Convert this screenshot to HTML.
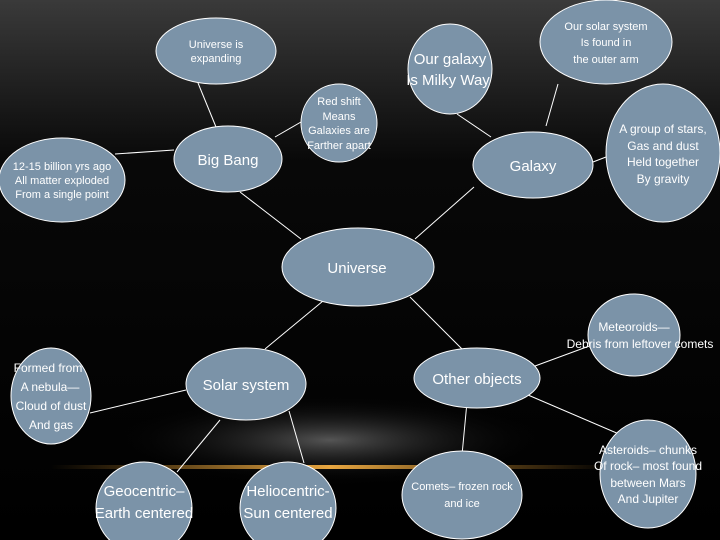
<!DOCTYPE html>
<html><head><meta charset="utf-8"><style>
html,body{margin:0;padding:0;background:#000}
svg{display:block}
text{font-family:"Liberation Sans Narrow","Liberation Sans",sans-serif;fill:#fff;text-anchor:middle}
</style></head><body>
<svg width="720" height="540" viewBox="0 0 720 540" xmlns="http://www.w3.org/2000/svg">
<defs>
<linearGradient id="bg" x1="0" y1="0" x2="0" y2="1">
<stop offset="0" stop-color="#3a3a3a"/><stop offset="0.3" stop-color="#080808"/><stop offset="1" stop-color="#000"/>
</linearGradient>
<radialGradient id="glow" cx="0.5" cy="0.5" r="0.5">
<stop offset="0" stop-color="#555"/><stop offset="1" stop-color="#000" stop-opacity="0"/>
</radialGradient>
<linearGradient id="ln" x1="0" y1="0" x2="1" y2="0">
<stop offset="0" stop-color="#c88a2a" stop-opacity="0"/><stop offset="0.5" stop-color="#e8a640"/><stop offset="1" stop-color="#c88a2a" stop-opacity="0"/>
</linearGradient>
</defs>
<rect width="720" height="540" fill="url(#bg)"/>
<ellipse cx="330" cy="440" rx="220" ry="45" fill="url(#glow)"/>
<rect x="50" y="465" width="560" height="4" fill="url(#ln)"/>
<g stroke="#fff" stroke-width="1">
<line x1="198" y1="83" x2="216" y2="127"/>
<line x1="275" y1="137" x2="301" y2="122"/>
<line x1="115" y1="154" x2="174" y2="150"/>
<line x1="240" y1="192" x2="301" y2="239"/>
<line x1="474" y1="187" x2="415" y2="239"/>
<line x1="491" y1="137" x2="457" y2="114"/>
<line x1="546" y1="126" x2="558" y2="84"/>
<line x1="593" y1="162" x2="606" y2="157"/>
<line x1="323" y1="301" x2="265" y2="349"/>
<line x1="410" y1="297" x2="462" y2="349"/>
<line x1="535" y1="366" x2="592" y2="345"/>
<line x1="186" y1="390" x2="90" y2="413"/>
<line x1="220" y1="420" x2="177" y2="472"/>
<line x1="289" y1="411" x2="304" y2="463"/>
<line x1="467" y1="402" x2="462" y2="455"/>
<line x1="528" y1="395" x2="640" y2="443"/>
</g>
<g fill="#7b93a8" stroke="#fff" stroke-width="1">
<ellipse cx="216" cy="51" rx="60" ry="33"/>
<ellipse cx="450" cy="69" rx="42" ry="45"/>
<ellipse cx="606" cy="42" rx="66" ry="42"/>
<ellipse cx="339" cy="123" rx="38" ry="39"/>
<ellipse cx="228" cy="159" rx="54" ry="33"/>
<ellipse cx="62" cy="180" rx="63" ry="42"/>
<ellipse cx="533" cy="165" rx="60" ry="33"/>
<ellipse cx="663" cy="153" rx="57" ry="69"/>
<ellipse cx="358" cy="267" rx="76" ry="39"/>
<ellipse cx="634" cy="335" rx="46" ry="41"/>
<ellipse cx="477" cy="378" rx="63" ry="30"/>
<ellipse cx="246" cy="384" rx="60" ry="36"/>
<ellipse cx="51" cy="396" rx="40" ry="48"/>
<ellipse cx="144" cy="508" rx="48" ry="46"/>
<ellipse cx="288" cy="508" rx="48" ry="46"/>
<ellipse cx="462" cy="495" rx="60" ry="44"/>
<ellipse cx="648" cy="474" rx="48" ry="54"/>
</g>
<g font-size="11">
<text x="216" y="48">Universe is</text><text x="216" y="62">expanding</text>
<text x="606" y="30">Our solar system</text><text x="606" y="46">Is found  in</text><text x="606" y="63">the outer arm</text>
<text x="339" y="105">Red shift</text><text x="339" y="120">Means</text><text x="339" y="134">Galaxies are</text><text x="339" y="149">Farther apart</text>
<text x="62" y="170">12-15 billion yrs ago</text><text x="62" y="184">All matter exploded</text><text x="62" y="198">From a single point</text>
<text x="462" y="490">Comets– frozen rock</text><text x="462" y="507">and ice</text>
</g>
<g font-size="12">
<text x="663" y="133">A group of stars,</text><text x="663" y="150">Gas and dust</text><text x="663" y="166">Held together</text><text x="663" y="183">By gravity</text>
<text x="634" y="331">Meteoroids—</text><text x="640" y="348">Debris from leftover comets</text>
<text x="648" y="454">Asteroids– chunks</text><text x="648" y="470">Of rock– most found</text><text x="648" y="487">between Mars</text><text x="648" y="503">And Jupiter</text>
<text x="48" y="372">Formed from</text><text x="50" y="391">A nebula—</text><text x="51" y="410">Cloud of dust</text><text x="51" y="429">And gas</text>
</g>
<g font-size="15">
<text x="450" y="64">Our galaxy</text><text x="448" y="85">Is Milky Way</text>
<text x="228" y="165">Big Bang</text>
<text x="533" y="171">Galaxy</text>
<text x="357" y="273">Universe</text>
<text x="477" y="384">Other objects</text>
<text x="246" y="390">Solar system</text>
<text x="144" y="496">Geocentric–</text><text x="144" y="518">Earth centered</text>
<text x="288" y="496">Heliocentric-</text><text x="288" y="518">Sun centered</text>
</g>
</svg>
</body></html>
